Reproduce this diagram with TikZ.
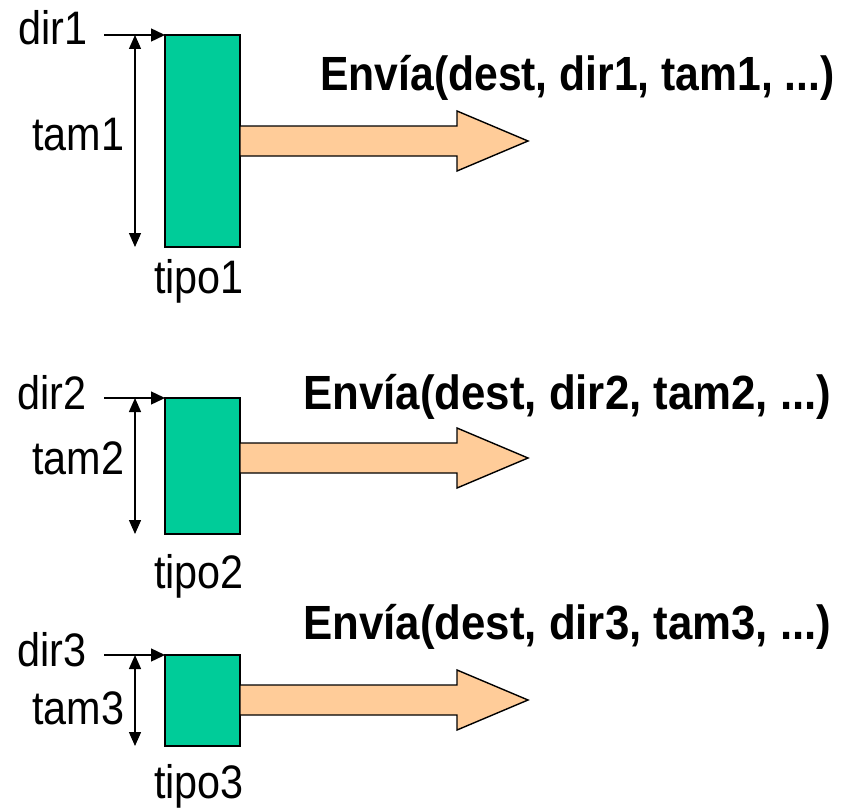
\documentclass[tikz,border=0pt]{standalone}
\usepackage{fontspec}
\setmainfont{Liberation Sans}[FakeStretch=0.88]
\usetikzlibrary{arrows.meta,calc}

\begin{document}
\begin{tikzpicture}[x=1pt,y=-1pt,
  buffer/.style={draw=black,line width=1.4pt,fill=bufgreen,inner sep=0pt,outer sep=0pt,anchor=north west},
  ptr/.style={line width=1.4pt,-{Triangle[length=14pt,width=13pt]}},
  span/.style={line width=1.4pt,{Triangle[length=14pt,width=12pt]}-{Triangle[length=14pt,width=12pt]}},
  flow/.style={draw=black,line width=1.4pt,fill=floworange,line join=miter},
  lbl/.style={inner sep=0pt,anchor=base west,font=\fontsize{47}{47}\selectfont},
  call/.style={inner sep=0pt,anchor=base west,font=\fontsize{48}{48}\selectfont\bfseries}]
\definecolor{bufgreen}{RGB}{0,204,153}
\definecolor{floworange}{RGB}{255,204,153}
\path[use as bounding box] (0,0) rectangle (848,808);

% block-arrow outline: shaft 30 high, head 60 high, tip at x=528
\newcommand{\sendarrow}[2]{%
  \draw[flow] (#1) -- ++(0,-15) -- (457,#2-15) -- (457,#2-30) -- (528,#2)
    -- (457,#2+30) -- (457,#2+15) -- ($(#1)+(0,15)$) -- cycle;}

% ---- first buffer ----
\node[buffer,minimum width=75pt,minimum height=212pt] (b1) at (165,35) {};
\coordinate (d1) at (104,35);
\coordinate (s1a) at (135,35);
\coordinate (s1b) at (135,247);
\draw[ptr] (d1) -- (b1.north west);
\draw[span] (s1a) -- (s1b);
\node[lbl] (dir1) at (18,45) {dir1};
\node[lbl] (tam1) at (32,150) {tam1};
\node[lbl] (tipo1) at (154,293) {tipo1};
\coordinate (a1) at (b1.east);
\sendarrow{a1}{141}
\node[call] (c1) at (320,90) {\scalebox{1.01}[1]{Envía(dest, dir1, tam1, ...)}};

% ---- second buffer ----
\node[buffer,minimum width=75pt,minimum height=136pt] (b2) at (165,398) {};
\coordinate (d2) at (104,398);
\coordinate (s2a) at (135,398);
\coordinate (s2b) at (135,534);
\draw[ptr] (d2) -- (b2.north west);
\draw[span] (s2a) -- (s2b);
\node[lbl] (dir2) at (17,409) {dir2};
\node[lbl] (tam2) at (32,474) {tam2};
\node[lbl] (tipo2) at (154,588) {tipo2};
\coordinate (a2) at (240,458);
\sendarrow{a2}{458}
\node[call] (c2) at (303,409) {\scalebox{1.037}[1]{Envía(dest, dir2, tam2, ...)}};

% ---- third buffer ----
\node[buffer,minimum width=75pt,minimum height=91pt] (b3) at (165,655) {};
\coordinate (d3) at (104,655);
\coordinate (s3a) at (135,655);
\coordinate (s3b) at (135,746);
\draw[ptr] (d3) -- (b3.north west);
\draw[span] (s3a) -- (s3b);
\node[lbl] (dir3) at (17,666) {dir3};
\node[lbl] (tam3) at (32,724) {tam3};
\node[lbl] (tipo3) at (154,798) {tipo3};
\coordinate (a3) at (240,700);
\sendarrow{a3}{700}
\node[call] (c3) at (303,639) {\scalebox{1.037}[1]{Envía(dest, dir3, tam3, ...)}};
\end{tikzpicture}
\end{document}
